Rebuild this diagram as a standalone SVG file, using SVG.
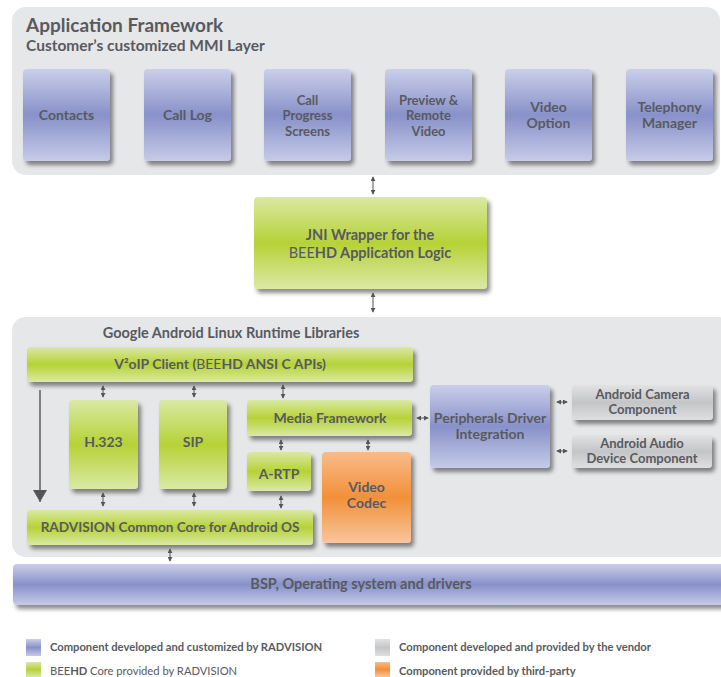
<svg xmlns="http://www.w3.org/2000/svg" width="721" height="677" viewBox="0 0 721 677">
<style>
text{font-family:Lato,"Liberation Sans",sans-serif;font-weight:bold;fill:#585a60;text-anchor:middle}
.t13{font-size:14px}
.m{font-size:13px}
.t14{font-size:14.5px}
.reg{font-weight:normal}
.leg{font-size:11.2px;text-anchor:start}
.conn{stroke:#555;stroke-width:1;fill:none;marker-start:url(#ah);marker-end:url(#ah)}
.panel{fill:#e6e7e9}
</style>
<defs>
<linearGradient id="gBlue" x1="0" y1="0" x2="0" y2="1">
<stop offset="0" stop-color="#cbcfea"/><stop offset="0.5" stop-color="#8891c9"/><stop offset="1" stop-color="#c6cbe8"/>
</linearGradient>
<linearGradient id="gGreen" x1="0" y1="0" x2="0" y2="1">
<stop offset="0" stop-color="#dae8a3"/><stop offset="0.5" stop-color="#b6d236"/><stop offset="1" stop-color="#dbe9a6"/>
</linearGradient>
<linearGradient id="gOrange" x1="0" y1="0" x2="0" y2="1">
<stop offset="0" stop-color="#f9bb8a"/><stop offset="0.5" stop-color="#f29038"/><stop offset="1" stop-color="#fac59d"/>
</linearGradient>
<linearGradient id="gGray" x1="0" y1="0" x2="0" y2="1">
<stop offset="0" stop-color="#e2e2e3"/><stop offset="0.5" stop-color="#c4c5c7"/><stop offset="1" stop-color="#dedfe0"/>
</linearGradient>
<filter id="sh" x="-10%" y="-10%" width="130%" height="140%">
<feDropShadow dx="3" dy="4" stdDeviation="2" flood-color="#000" flood-opacity="0.45"/>
</filter>
<marker id="ah" viewBox="0 0 6 6" refX="5" refY="3" markerWidth="5" markerHeight="5" markerUnits="userSpaceOnUse" orient="auto-start-reverse">
<path d="M0,0 L6,3 L0,6 z" fill="#555"/>
</marker>
<marker id="big" viewBox="0 0 12 14" refX="12" refY="7" markerWidth="12" markerHeight="14" markerUnits="userSpaceOnUse" orient="auto">
<path d="M0,0 L12,7 L0,14 z" fill="#555"/>
</marker>
</defs>

<!-- panels -->
<g id="app-framework">
<rect class="panel" x="12" y="7" width="708" height="168" rx="14"/>
<text x="26" y="32" style="font-size:19px;text-anchor:start">Application Framework</text>
<text x="26" y="51" style="font-size:15.5px;text-anchor:start">Customer’s customized MMI Layer</text>
</g>
<g id="runtime-libs">
<rect class="panel" x="12" y="317" width="720" height="240" rx="14"/>
<text x="231" y="338" style="font-size:14.5px">Google Android Linux Runtime Libraries</text>
</g>

<!-- top blue boxes -->
<g id="contacts"><rect x="23" y="69" width="87" height="92" rx="4" fill="url(#gBlue)" filter="url(#sh)"/><text x="66.5" y="120" class="t13">Contacts</text></g>
<g id="call-log"><rect x="144" y="69" width="87" height="92" rx="4" fill="url(#gBlue)" filter="url(#sh)"/><text x="187.5" y="120" class="t13">Call Log</text></g>
<g id="call-progress"><rect x="264" y="69" width="87" height="92" rx="4" fill="url(#gBlue)" filter="url(#sh)"/><text x="307.5" y="104.5" class="m">Call</text><text x="307.5" y="120" class="m">Progress</text><text x="307.5" y="135.5" class="m">Screens</text></g>
<g id="preview-remote"><rect x="385" y="69" width="87" height="92" rx="4" fill="url(#gBlue)" filter="url(#sh)"/><text x="428.5" y="104.5" class="m">Preview &amp;</text><text x="428.5" y="120" class="m">Remote</text><text x="428.5" y="135.5" class="m">Video</text></g>
<g id="video-option"><rect x="505" y="69" width="87" height="92" rx="4" fill="url(#gBlue)" filter="url(#sh)"/><text x="548.5" y="112" class="t13">Video</text><text x="548.5" y="128" class="t13">Option</text></g>
<g id="telephony"><rect x="626" y="69" width="87" height="92" rx="4" fill="url(#gBlue)" filter="url(#sh)"/><text x="669.5" y="112" class="t13">Telephony</text><text x="669.5" y="128" class="t13">Manager</text></g>

<!-- JNI -->
<g id="jni"><rect x="254" y="197" width="233" height="92" rx="4" fill="url(#gGreen)" filter="url(#sh)"/>
<text x="370" y="240" class="t14">JNI Wrapper for the</text>
<text x="370" y="257.5" class="t14"><tspan class="reg">BEE</tspan>HD Application Logic</text></g>

<!-- runtime boxes -->
<g id="v2oip"><rect x="27" y="347" width="386" height="35" rx="4" fill="url(#gGreen)" filter="url(#sh)"/><text x="220" y="369" class="t13">V²oIP Client (<tspan class="reg">BEE</tspan>HD ANSI C APIs)</text></g>
<g id="h323"><rect x="69" y="400" width="69" height="89" rx="4" fill="url(#gGreen)" filter="url(#sh)"/><text x="103.5" y="447" class="t13">H.323</text></g>
<g id="sip"><rect x="159" y="400" width="68" height="89" rx="4" fill="url(#gGreen)" filter="url(#sh)"/><text x="193" y="447" class="t13">SIP</text></g>
<g id="media-framework"><rect x="247" y="400" width="165" height="36" rx="4" fill="url(#gGreen)" filter="url(#sh)"/><text x="330" y="423" class="t13">Media Framework</text></g>
<g id="a-rtp"><rect x="247" y="452" width="64" height="39" rx="4" fill="url(#gGreen)" filter="url(#sh)"/><text x="279" y="479" class="t13">A-RTP</text></g>
<g id="video-codec"><rect x="322" y="452" width="89" height="91" rx="4" fill="url(#gOrange)" filter="url(#sh)"/><text x="366.5" y="492" class="t13">Video</text><text x="366.5" y="508" class="t13">Codec</text></g>
<g id="common-core"><rect x="27" y="510" width="286" height="35" rx="4" fill="url(#gGreen)" filter="url(#sh)"/><text x="170" y="532" style="font-size:13.6px">RADVISION Common Core for Android OS</text></g>
<g id="peripherals"><rect x="430" y="385" width="120" height="83" rx="4" fill="url(#gBlue)" filter="url(#sh)"/><text x="490" y="423" class="t13">Peripherals Driver</text><text x="490" y="439" class="t13">Integration</text></g>
<g id="camera"><rect x="572" y="385" width="141" height="35" rx="4" fill="url(#gGray)" filter="url(#sh)"/><text x="642.5" y="398.5" class="m">Android Camera</text><text x="642.5" y="414" class="m">Component</text></g>
<g id="audio"><rect x="572" y="435" width="140" height="33" rx="4" fill="url(#gGray)" filter="url(#sh)"/><text x="642" y="447.5" class="m">Android Audio</text><text x="642" y="463" class="m">Device Component</text></g>

<!-- BSP -->
<g id="bsp"><rect x="13" y="564" width="720" height="41" rx="4" fill="url(#gBlue)" filter="url(#sh)"/><text x="361" y="589" style="font-size:14.5px">BSP, Operating system and drivers</text></g>

<!-- connectors -->
<g id="connectors">
<line class="conn" x1="373" y1="177" x2="373" y2="194"/>
<line class="conn" x1="373" y1="293" x2="373" y2="312"/>
<line class="conn" x1="103" y1="386" x2="103" y2="397"/>
<line class="conn" x1="194" y1="386" x2="194" y2="397"/>
<line class="conn" x1="283" y1="385" x2="283" y2="398"/>
<line class="conn" x1="281" y1="440" x2="281" y2="450"/>
<line class="conn" x1="368" y1="440" x2="368" y2="450"/>
<line class="conn" x1="103" y1="493" x2="103" y2="506"/>
<line class="conn" x1="194" y1="493" x2="194" y2="506"/>
<line class="conn" x1="281" y1="496" x2="281" y2="508"/>
<line class="conn" x1="170" y1="549" x2="170" y2="561"/>
<line class="conn" x1="417" y1="418" x2="428" y2="418"/>
<line class="conn" x1="557" y1="402" x2="567" y2="402"/>
<line class="conn" x1="557" y1="451" x2="567" y2="451"/>
<line x1="40" y1="390" x2="40" y2="502" stroke="#808080" stroke-width="2" marker-end="url(#big)"/>
</g>

<!-- legend -->
<g id="legend">
<rect x="26" y="639" width="15" height="17" fill="url(#gBlue)"/>
<text x="50" y="651" class="leg">Component developed and customized by RADVISION</text>
<rect x="26" y="662" width="15" height="15" fill="url(#gGreen)"/>
<text x="50" y="675" class="leg"><tspan class="reg">BEE</tspan>HD <tspan class="reg">Core provided by RADVISION</tspan></text>
<rect x="375" y="639" width="15" height="17" fill="url(#gGray)"/>
<text x="399" y="651" class="leg">Component developed and provided by the vendor</text>
<rect x="375" y="662" width="15" height="15" fill="url(#gOrange)"/>
<text x="399" y="675" class="leg">Component provided by third-party</text>
</g>
</svg>
